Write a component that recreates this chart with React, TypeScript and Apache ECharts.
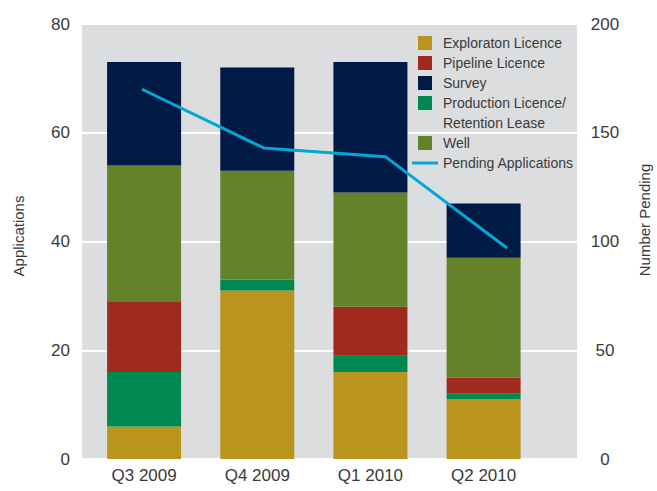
import React, { useEffect, useRef } from "react";
import * as echarts from "echarts";

const categories = ["Q3 2009", "Q4 2009", "Q1 2010", "Q2 2010"];
const exploration = [6, 31, 16, 11];
const production = [10, 2, 3, 1];
const pipeline = [13, 0, 9, 3];
const well = [25, 20, 21, 22];
const survey = [19, 19, 24, 10];
const pending = [170, 143, 139, 97];

const NAME_EXPL = "Exploraton Licence";
const NAME_PIPE = "Pipeline Licence";
const NAME_SURV = "Survey";
const NAME_PROD = "Production Licence/ Retention Lease";
const NAME_WELL = "Well";
const NAME_PEND = "Pending Applications";

const FONT = "'Liberation Sans', Arial, sans-serif";
const TEXT = "#3a3a3a";
const SQUARE = "path://M0,0h14v14h-14z";
const LINEICON = "path://M0,0h26v3h-26z";

export default function App() {
  const ref = useRef<HTMLDivElement>(null);
  useEffect(() => {
    document.body.style.margin = "0";
    const chart = echarts.init(ref.current!, null, { renderer: "svg" });
    const barBase = {
      type: "bar",
      stack: "apps",
      xAxisIndex: 1,
      yAxisIndex: 2,
      barWidth: 74,
    };
    const legendBase = {
      orient: "vertical",
      padding: 0,
      itemWidth: 26,
      itemHeight: 14,
      itemGap: 6,
      selectedMode: false,
      textStyle: { fontFamily: FONT, fontSize: 14, color: TEXT, lineHeight: 14 },
    };
    chart.setOption({
      animation: false,
      textStyle: { fontFamily: FONT },
      grid: [
        { left: 82, right: 80, top: 24, height: 435, show: true, backgroundColor: "#dcdddf", borderWidth: 0 },
        { left: 87.5, width: 452.7, top: 24, height: 435 },
        { left: 142, right: 150, top: 24, height: 435 },
      ],
      xAxis: [
        { type: "category", gridIndex: 0, data: categories, show: false },
        {
          type: "category",
          gridIndex: 1,
          data: categories,
          axisLine: { show: false },
          axisTick: { show: false },
          axisLabel: { fontFamily: FONT, fontSize: 17, color: TEXT, margin: 8 },
        },
        { type: "category", gridIndex: 2, data: categories, boundaryGap: false, show: false },
      ],
      yAxis: [
        {
          type: "value",
          gridIndex: 0,
          min: 0,
          max: 80,
          interval: 20,
          position: "left",
          axisLine: { show: false },
          axisTick: { show: false },
          splitLine: { show: true, lineStyle: { color: "#ffffff", width: 2 } },
          axisLabel: { fontFamily: FONT, fontSize: 17, color: TEXT, margin: 12, padding: [0, 0, 4, 0] },
        },
        {
          type: "value",
          gridIndex: 0,
          min: 0,
          max: 200,
          interval: 50,
          position: "right",
          axisLine: { show: false },
          axisTick: { show: false },
          splitLine: { show: false },
          axisLabel: { fontFamily: FONT, fontSize: 17, color: TEXT, margin: 28, align: "center", padding: [0, 0, 4, 0] },
        },
        { type: "value", gridIndex: 1, min: 0, max: 80, show: false, splitLine: { show: false } },
        { type: "value", gridIndex: 2, min: 0, max: 200, show: false, splitLine: { show: false } },
      ],
      legend: [
        {
          ...legendBase,
          left: 418,
          top: 36,
          data: [
            { name: NAME_EXPL, icon: SQUARE },
            { name: NAME_PIPE, icon: SQUARE },
            { name: NAME_SURV, icon: SQUARE },
            { name: NAME_PROD, icon: SQUARE },
          ],
          formatter: (n: string) => (n === NAME_PROD ? "Production Licence/" : n),
        },
        {
          ...legendBase,
          left: 412,
          top: 136,
          data: [
            { name: NAME_WELL, icon: SQUARE },
            { name: NAME_PEND, icon: LINEICON },
          ],
        },
      ],
      graphic: [
        {
          type: "text",
          x: 443,
          y: 123,
          style: { text: "Retention Lease", fontFamily: FONT, fontSize: 14, fill: TEXT, verticalAlign: "middle" },
        },
        {
          type: "text",
          x: 18,
          y: 236,
          rotation: Math.PI / 2,
          style: { text: "Applications", fontFamily: FONT, fontSize: 15, fill: TEXT, align: "center", verticalAlign: "middle" },
        },
        {
          type: "text",
          x: 644,
          y: 220,
          rotation: Math.PI / 2,
          style: { text: "Number Pending", fontFamily: FONT, fontSize: 15, fill: TEXT, align: "center", verticalAlign: "middle" },
        },
      ],
      series: [
        { ...barBase, name: NAME_EXPL, data: exploration, itemStyle: { color: "#b9951e" } },
        { ...barBase, name: NAME_PROD, data: production, itemStyle: { color: "#008852" } },
        { ...barBase, name: NAME_PIPE, data: pipeline, itemStyle: { color: "#a12a1f" } },
        { ...barBase, name: NAME_WELL, data: well, itemStyle: { color: "#648229" } },
        { ...barBase, name: NAME_SURV, data: survey, itemStyle: { color: "#001a46" } },
        {
          type: "line",
          name: NAME_PEND,
          xAxisIndex: 2,
          yAxisIndex: 3,
          data: pending,
          symbol: "none",
          itemStyle: { color: "#00a8d5" },
          lineStyle: { color: "#00a8d5", width: 3 },
        },
      ],
    });
    return () => chart.dispose();
  }, []);
  return <div ref={ref} style={{ width: 657, height: 491 }} />;
}
